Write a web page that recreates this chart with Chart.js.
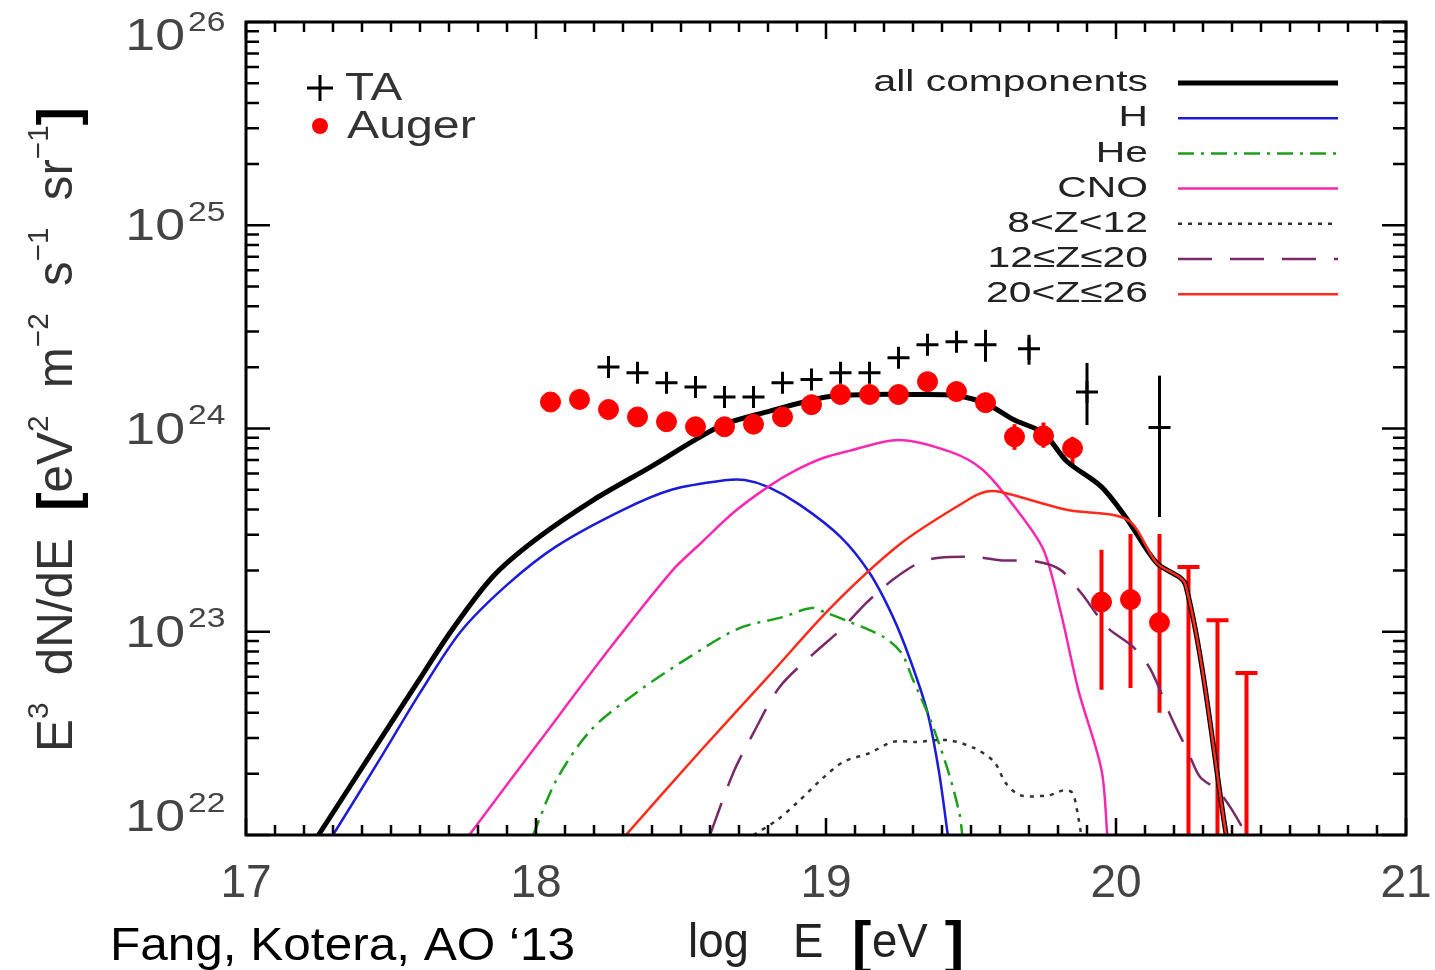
<!DOCTYPE html>
<html>
<head>
<meta charset="utf-8">
<script src="https://cdn.jsdelivr.net/npm/chart.js@4.4.0/dist/chart.umd.min.js"></script>
<style>
  html, body { margin: 0; padding: 0; background: #fff; }
  #wrap { width: 1435px; height: 970px; }
</style>
</head>
<body>
<div id="wrap"><canvas id="spectrum" width="1435" height="970"></canvas></div>
<script>
// x = log10(E / eV), y = E^3 dN/dE [eV^2 m^-2 s^-1 sr^-1]

// Telescope Array
const taE = [18.25, 18.35, 18.45, 18.55, 18.65, 18.75, 18.85, 18.95, 19.05, 19.15, 19.25, 19.35, 19.45, 19.55, 19.7, 19.9, 20.15];
const taFlux = [2.01e24, 1.88e24, 1.68e24, 1.60e24, 1.43e24, 1.43e24, 1.68e24, 1.74e24, 1.88e24, 1.88e24, 2.23e24, 2.58e24, 2.67e24, 2.58e24, 2.47e24, 1.51e24, 1.01e24];
const taHi = [null, null, null, null, null, null, null, null, null, null, null, null, null, 3.06e24, 2.89e24, 2.10e24, 1.82e24];
const taLo = [null, null, null, null, null, null, null, null, null, null, null, null, null, 2.13e24, 2.06e24, 1.04e24, 3.67e23];

// Pierre Auger
const augerE = [18.05, 18.15, 18.25, 18.35, 18.45, 18.55, 18.65, 18.75, 18.85, 18.95, 19.05, 19.15, 19.25, 19.35, 19.45, 19.55, 19.65, 19.75, 19.85, 19.95, 20.05, 20.15];
const augerFlux = [1.35e24, 1.39e24, 1.24e24, 1.14e24, 1.08e24, 1.02e24, 1.02e24, 1.05e24, 1.14e24, 1.31e24, 1.47e24, 1.47e24, 1.47e24, 1.70e24, 1.52e24, 1.34e24, 9.1e23, 9.2e23, 8.0e23, 1.40e23, 1.44e23, 1.11e23];
const augerHi = [null, null, null, null, null, null, null, null, null, null, null, null, null, null, null, null, 1.05e24, 1.07e24, 9.1e23, 2.53e23, 3.03e23, 3.03e23];
const augerLo = [null, null, null, null, null, null, null, null, null, null, null, null, null, null, null, null, 7.85e23, 8.04e23, 6.47e23, 5.18e22, 5.28e22, 3.99e22];
const limitE = [20.25, 20.35, 20.45];
const limitFlux = [2.08e23, 1.14e23, 6.26e22];

// model components
const allE = [17.25, 17.44, 17.59, 17.71, 17.85, 18.0, 18.2, 18.4, 18.55, 18.65, 18.78, 19.0, 19.15, 19.32, 19.45, 19.55, 19.65, 19.75, 19.83, 19.95, 20.04, 20.14, 20.24, 20.38];
const allFlux = [1e22, 2.62e22, 5.60e22, 1.02e23, 1.86e23, 2.85e23, 4.47e23, 6.53e23, 8.81e23, 1.05e24, 1.19e24, 1.43e24, 1.47e24, 1.47e24, 1.45e24, 1.33e24, 1.10e24, 9.5e23, 6.9e23, 5.16e23, 3.55e23, 2.18e23, 1.70e23, 1e22];

const hE = [17.30, 17.46, 17.60, 17.74, 17.90, 18.07, 18.30, 18.47, 18.65, 18.72, 18.80, 18.91, 19.05, 19.15, 19.23, 19.29, 19.35, 19.39, 19.42];
const hFlux = [1e22, 2.34e22, 5.0e22, 1.0e23, 1.70e23, 2.63e23, 3.98e23, 5.01e23, 5.56e23, 5.58e23, 5.16e23, 4.21e23, 2.93e23, 1.95e23, 1.19e23, 7.3e22, 4.0e22, 2.03e22, 1e22];

const heE = [17.99, 18.07, 18.19, 18.36, 18.53, 18.70, 18.85, 18.95, 19.00, 19.08, 19.20, 19.26, 19.30, 19.36, 19.42, 19.46, 19.47];
const heFlux = [1e22, 1.86e22, 3.29e22, 5.18e22, 7.52e22, 1.04e23, 1.18e23, 1.31e23, 1.24e23, 1.12e23, 9.4e22, 7.87e22, 5.8e22, 3.68e22, 2.09e22, 1.28e22, 1e22];

const cnoE = [17.77, 18.01, 18.25, 18.47, 18.57, 18.68, 18.80, 18.89, 18.99, 19.08, 19.25, 19.43, 19.54, 19.65, 19.75, 19.81, 19.87, 19.95, 19.97];
const cnoFlux = [1e22, 2.86e22, 8.13e22, 2.0e23, 2.74e23, 3.85e23, 5.16e23, 6.17e23, 7.16e23, 7.76e23, 8.79e23, 7.67e23, 6.27e23, 4.12e23, 2.53e23, 1.24e23, 5.18e22, 2.09e22, 1e22];

const z8E = [18.75, 18.83, 18.90, 18.99, 19.06, 19.15, 19.23, 19.31, 19.42, 19.51, 19.58, 19.62, 19.67, 19.77, 19.82, 19.85, 19.87, 19.88];
const z8Flux = [1e22, 1.18e22, 1.44e22, 1.91e22, 2.29e22, 2.53e22, 2.87e22, 2.87e22, 2.93e22, 2.68e22, 2.29e22, 1.80e22, 1.57e22, 1.57e22, 1.66e22, 1.61e22, 1.22e22, 1e22];

const z12E = [18.60, 18.68, 18.75, 18.84, 18.96, 19.05, 19.14, 19.23, 19.32, 19.39, 19.52, 19.60, 19.73, 19.81, 19.88, 19.97, 20.06, 20.12, 20.19, 20.25, 20.29, 20.35, 20.40, 20.45];
const z12Flux = [1e22, 2.02e22, 3.18e22, 5.35e22, 7.87e22, 1.02e23, 1.39e23, 1.80e23, 2.18e23, 2.31e23, 2.33e23, 2.25e23, 2.21e23, 2.01e23, 1.55e23, 1.05e23, 8.4e22, 6.49e22, 3.81e22, 2.53e22, 1.93e22, 1.66e22, 1.33e22, 1e22];

const z20E = [18.31, 18.57, 18.80, 19.02, 19.26, 19.49, 19.55, 19.60, 19.83, 20.04, 20.14, 20.24, 20.38];
const z20Flux = [1e22, 2.62e22, 6.0e22, 1.33e23, 2.73e23, 4.46e23, 4.88e23, 4.88e23, 3.98e23, 3.55e23, 2.18e23, 1.70e23, 1e22];

const tickExps = [22, 23, 24, 25, 26];
const xTickLabels = [17, 18, 19, 20, 21];

const zip = (xs, ys) => xs.map((x, i) => ({ x: x, y: ys[i] }));

const curve = (label, xs, ys, color, width, dash, order) => ({
  label: label,
  data: zip(xs, ys),
  borderColor: color,
  borderWidth: width,
  borderDash: dash,
  borderJoinStyle: "round",
  pointRadius: 0,
  fill: false,
  tension: 0.3,
  order: order,
});

const legendRows = [
  { text: "all components", color: "#000000", width: 5, dash: [] },
  { text: "H", color: "#1c1cd8", width: 2.5, dash: [] },
  { text: "He", color: "#1ca01c", width: 2.5, dash: [16, 7, 3, 7] },
  { text: "CNO", color: "#f52ab0", width: 2.5, dash: [] },
  { text: "8<Z<12", color: "#333333", width: 2.5, dash: [4, 6] },
  { text: "12\u2264Z\u226420", color: "#7a2868", width: 2.5, dash: [34, 18] },
  { text: "20<Z\u226426", color: "#ff2a1a", width: 2.5, dash: [] },
];

// draw text stretched horizontally (the original font is much wider than ours)
function wideText(ctx, txt, x, y, sx, align) {
  const w = ctx.measureText(txt).width * sx;
  const x0 = align === "right" ? x - w : align === "center" ? x - w / 2 : x;
  ctx.save();
  ctx.translate(x0, y);
  ctx.scale(sx, 1);
  ctx.textAlign = "left";
  ctx.fillText(txt, 0, 0);
  ctx.restore();
  return w;
}

// draw a list of text pieces fitted to a given length
function richText(ctx, parts, length) {
  let total = 0;
  parts.forEach((p) => {
    ctx.font = p.font;
    total += ctx.measureText(p.t).width;
  });
  const sx = length / total;
  ctx.save();
  ctx.scale(sx, 1);
  let cx = 0;
  parts.forEach((p) => {
    ctx.font = p.font;
    ctx.fillStyle = p.color || "#333";
    ctx.fillText(p.t, cx, p.dy || 0);
    cx += ctx.measureText(p.t).width;
  });
  ctx.restore();
}

const errorBars = {
  id: "errorBars",
  beforeDatasetsDraw(chart) {
    const { ctx, chartArea, scales } = chart;
    ctx.save();
    ctx.beginPath();
    ctx.rect(chartArea.left, chartArea.top, chartArea.right - chartArea.left, chartArea.bottom - chartArea.top);
    ctx.clip();
    chart.data.datasets.forEach((ds) => {
      if (!ds.errHi) return;
      ctx.strokeStyle = ds.barColor;
      ctx.lineWidth = ds.barWidth;
      ds.data.forEach((p, i) => {
        if (ds.errHi[i] == null) return;
        const px = scales.x.getPixelForValue(p.x);
        const top = scales.y.getPixelForValue(ds.errHi[i]);
        const bot = ds.toFloor ? chartArea.bottom : scales.y.getPixelForValue(ds.errLo[i]);
        ctx.beginPath();
        ctx.moveTo(px, top);
        ctx.lineTo(px, bot);
        if (ds.capWidth) {
          ctx.moveTo(px - ds.capWidth / 2, top);
          ctx.lineTo(px + ds.capWidth / 2, top);
        }
        ctx.stroke();
      });
    });
    ctx.restore();
  },
};

const frameAndText = {
  id: "frameAndText",
  afterDraw(chart) {
    const { ctx, chartArea, scales } = chart;
    const { left, right, top, bottom } = chartArea;
    ctx.save();

    // frame
    ctx.strokeStyle = "#000";
    ctx.lineWidth = 3;
    ctx.strokeRect(left, top, right - left, bottom - top);

    // y ticks, inward on both sides
    ctx.lineWidth = 2.5;
    tickExps.forEach((e) => {
      for (let k = 1; k <= 9; k++) {
        if (e === 26 && k > 1) break;
        const py = scales.y.getPixelForValue(k * Math.pow(10, e));
        const len = k === 1 ? 24 : 13;
        ctx.beginPath();
        ctx.moveTo(left, py);
        ctx.lineTo(left + len, py);
        ctx.moveTo(right, py);
        ctx.lineTo(right - len, py);
        ctx.stroke();
      }
    });

    // x ticks every 0.1
    for (let i = 0; i <= 40; i++) {
      const px = scales.x.getPixelForValue(17 + i / 10);
      const len = i % 10 === 0 ? 17 : 10;
      ctx.beginPath();
      ctx.moveTo(px, bottom);
      ctx.lineTo(px, bottom - len);
      ctx.moveTo(px, top);
      ctx.lineTo(px, top + len);
      ctx.stroke();
    }

    // y tick labels 10^n
    ctx.fillStyle = "#444";
    ctx.textBaseline = "middle";
    tickExps.forEach((e) => {
      let cy = scales.y.getPixelForValue(Math.pow(10, e)) + 3;
      if (e === 26) cy = top + 16;
      if (e === 22) cy = bottom - 16;
      ctx.font = "44px 'Liberation Sans'";
      wideText(ctx, "10", 185, cy, 1.22, "right");
      ctx.font = "28px 'Liberation Sans'";
      wideText(ctx, String(e), 188, cy - 15, 1.2, "left");
    });

    // x tick labels
    ctx.font = "46px 'Liberation Sans'";
    xTickLabels.forEach((v) => {
      wideText(ctx, String(v), scales.x.getPixelForValue(v), 884, 1.0, "center");
    });

    // y axis title
    ctx.save();
    ctx.translate(72, 752);
    ctx.rotate(-Math.PI / 2);
    ctx.textBaseline = "alphabetic";
    const big = "50px 'Liberation Sans'";
    const sup = "30px 'Liberation Sans'";
    const br = "bold 56px 'Liberation Sans'";
    richText(ctx, [
      { t: "E", font: big },
      { t: "3", font: sup, dy: -24 },
      { t: "  dN/dE  ", font: big },
      { t: "[", font: br, color: "#000", dy: 4 },
      { t: "eV", font: big },
      { t: "2", font: sup, dy: -24 },
      { t: "  m", font: big },
      { t: "\u22122", font: sup, dy: -24 },
      { t: "  s", font: big },
      { t: "\u22121", font: sup, dy: -24 },
      { t: "  sr", font: big },
      { t: "\u22121", font: sup, dy: -24 },
      { t: "]", font: br, color: "#000", dy: 4 },
    ], 645);
    ctx.restore();

    // x axis title and citation
    ctx.textBaseline = "alphabetic";
    ctx.fillStyle = "#222";
    ctx.font = "48px 'Liberation Sans'";
    wideText(ctx, "log", 688, 957, 0.95, "left");
    wideText(ctx, "E", 793, 957, 0.95, "left");
    ctx.fillStyle = "#000";
    ctx.font = "bold 58px 'Liberation Sans'";
    wideText(ctx, "[", 852, 962, 1.0, "left");
    wideText(ctx, "]", 964, 962, 1.0, "right");
    ctx.fillStyle = "#222";
    ctx.font = "48px 'Liberation Sans'";
    wideText(ctx, "eV", 872, 957, 0.95, "left");

    ctx.fillStyle = "#000";
    ctx.font = "46px 'Liberation Sans'";
    const citeW = ctx.measureText("Fang, Kotera, AO \u201813").width;
    wideText(ctx, "Fang, Kotera, AO \u201813", 110, 960, 465 / citeW, "left");

    // data legend, top left
    ctx.strokeStyle = "#000";
    ctx.lineWidth = 3;
    ctx.beginPath();
    ctx.moveTo(307, 88);
    ctx.lineTo(333, 88);
    ctx.moveTo(320, 75);
    ctx.lineTo(320, 101);
    ctx.stroke();
    ctx.fillStyle = "#ff0000";
    ctx.beginPath();
    ctx.arc(320, 126, 8, 0, Math.PI * 2);
    ctx.fill();
    ctx.fillStyle = "#333";
    ctx.font = "38px 'Liberation Sans'";
    wideText(ctx, "TA", 345, 100, 1.25, "left");
    wideText(ctx, "Auger", 347, 138, 1.27, "left");

    // model legend, top right
    ctx.font = "30px 'Liberation Sans'";
    ctx.textBaseline = "middle";
    legendRows.forEach((row, i) => {
      const cy = 83 + i * 35.2;
      ctx.fillStyle = "#222";
      wideText(ctx, row.text, 1148, cy, 1.36, "right");
      ctx.strokeStyle = row.color;
      ctx.lineWidth = row.width;
      ctx.setLineDash(row.dash);
      ctx.beginPath();
      ctx.moveTo(1178, cy);
      ctx.lineTo(1338, cy);
      ctx.stroke();
      ctx.setLineDash([]);
    });

    ctx.restore();
  },
};

new Chart(document.getElementById("spectrum"), {
  type: "line",
  data: {
    datasets: [
      {
        label: "TA",
        data: zip(taE, taFlux),
        showLine: false,
        pointStyle: "cross",
        pointRadius: 11,
        pointBorderWidth: 3,
        pointBorderColor: "#000",
        errHi: taHi,
        errLo: taLo,
        barColor: "#000",
        barWidth: 3,
        order: 0,
      },
      {
        label: "Auger",
        data: zip(augerE, augerFlux),
        showLine: false,
        pointStyle: "circle",
        pointRadius: 10,
        pointBorderWidth: 1,
        pointBackgroundColor: "#ff0000",
        pointBorderColor: "#ff0000",
        errHi: augerHi,
        errLo: augerLo,
        barColor: "#ff0000",
        barWidth: 4,
        order: 1,
      },
      {
        label: "Auger upper limits",
        data: zip(limitE, limitFlux),
        showLine: false,
        pointRadius: 0,
        errHi: limitFlux,
        toFloor: true,
        capWidth: 22,
        barColor: "#ff0000",
        barWidth: 4,
        order: 2,
      },
      curve("20<Z\u226426", z20E, z20Flux, "#ff2a1a", 2.5, [], 3),
      curve("12\u2264Z\u226420", z12E, z12Flux, "#7a2868", 2.5, [34, 18], 4),
      curve("8<Z<12", z8E, z8Flux, "#333333", 2.5, [4, 6], 5),
      curve("CNO", cnoE, cnoFlux, "#f52ab0", 2.5, [], 6),
      curve("He", heE, heFlux, "#1ca01c", 2.5, [16, 7, 3, 7], 7),
      curve("H", hE, hFlux, "#1c1cd8", 2.5, [], 8),
      curve("all components", allE, allFlux, "#000000", 5, [], 9),
    ],
  },
  options: {
    responsive: false,
    animation: false,
    layout: { padding: { top: 22, right: 29, left: 0, bottom: 0 } },
    plugins: { legend: { display: false }, tooltip: { enabled: false } },
    scales: {
      x: {
        type: "linear",
        min: 17,
        max: 21,
        grid: { display: false },
        border: { display: false },
        ticks: { display: false },
        afterFit: (scale) => { scale.height = 135; },
      },
      y: {
        type: "logarithmic",
        min: 1e22,
        max: 1e26,
        grid: { display: false },
        border: { display: false },
        ticks: { display: false },
        afterFit: (scale) => { scale.width = 246; },
      },
    },
  },
  plugins: [errorBars, frameAndText],
});
</script>
</body>
</html>
